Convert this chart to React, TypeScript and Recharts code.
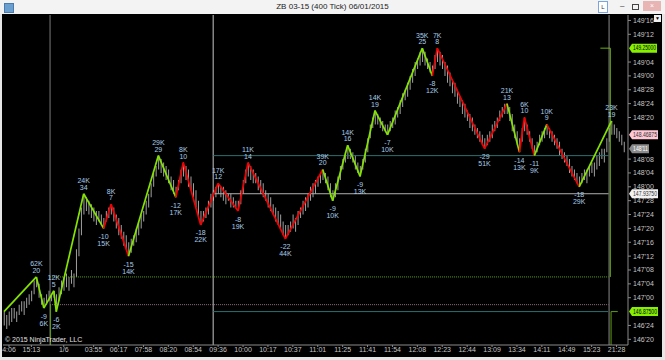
import React from 'react';
import { ComposedChart, Bar, Line, Scatter, XAxis, YAxis, ReferenceLine } from 'recharts';

// Prices are stored in 32nds above 146'00 (ZB ticks)
const barLow = [
  24, 23, 24, 25, 26, 25, 27, 28, 27, 29,
  30, 31, 33, 35, 32, 30, 29, 30, 31, 31,
  32, 28, 31, 33, 34, 35, 34, 36, 35, 38,
  44, 50, 56, 57, 56, 55, 54, 53, 54, 53,
  52, 54, 55, 56, 54, 52, 50, 49, 47, 46,
  44, 45, 47, 48, 50, 52, 54, 56, 58, 61,
  64, 67, 69, 68, 67, 66, 65, 63, 62, 61,
  63, 65, 67, 66, 64, 63, 61, 58, 55, 53,
  54, 55, 56, 58, 60, 61, 62, 61, 60, 59,
  60, 58, 58, 58, 57, 59, 62, 65, 67, 66,
  65, 65, 63, 62, 61, 60, 58, 57, 56, 54,
  53, 52, 50, 49, 50, 51, 52, 51, 53, 55,
  56, 57, 58, 60, 61, 62, 64, 65, 66, 65,
  63, 61, 60, 61, 63, 66, 69, 71, 72, 72,
  71, 69, 68, 67, 69, 71, 74, 78, 81, 82,
  82, 81, 80, 80, 79, 80, 81, 82, 84, 85,
  87, 89, 90, 92, 94, 96, 98, 99, 100, 99,
  98, 97, 96, 98, 100, 99, 98, 96, 94, 93,
  91, 90, 88, 87, 85, 84, 83, 81, 80, 79,
  78, 77, 76, 75, 76, 77, 78, 80, 81, 83,
  84, 85, 85, 83, 80, 78, 76, 74, 77, 80,
  79, 77, 75, 73, 74, 76, 77, 78, 79, 78,
  77, 76, 75, 73, 72, 71, 70, 68, 67, 66,
  65, 64, 65, 66, 65, 67, 68, 67, 69, 70,
  72, 71, 74, 77, 79, 79, 78, 77, 76, 74,
];
const barHigh = [
  28, 27, 28, 29, 29, 28, 30, 31, 31, 32,
  33, 34, 37, 38, 36, 33, 32, 33, 34, 33,
  34, 33, 35, 37, 38, 39, 38, 40, 39, 46,
  52, 58, 62, 61, 60, 59, 58, 57, 57, 56,
  55, 57, 58, 59, 58, 56, 55, 53, 51, 50,
  48, 49, 50, 52, 54, 56, 57, 60, 62, 65,
  68, 70, 73, 72, 71, 70, 69, 67, 66, 64,
  66, 69, 71, 70, 69, 67, 65, 63, 60, 57,
  57, 58, 60, 62, 63, 64, 65, 64, 64, 63,
  62, 62, 61, 60, 60, 63, 66, 69, 71, 70,
  69, 68, 67, 66, 65, 63, 62, 61, 59, 58,
  57, 56, 54, 53, 53, 54, 56, 55, 57, 58,
  60, 61, 62, 64, 65, 66, 67, 68, 69, 68,
  67, 65, 63, 65, 67, 70, 72, 74, 76, 75,
  74, 73, 71, 70, 72, 75, 78, 82, 84, 86,
  85, 84, 83, 82, 82, 83, 84, 86, 87, 89,
  91, 92, 94, 96, 98, 100, 101, 103, 104, 103,
  101, 100, 99, 102, 104, 103, 102, 100, 99, 97,
  95, 94, 92, 90, 89, 88, 86, 85, 84, 82,
  81, 80, 79, 78, 79, 80, 82, 83, 84, 86,
  87, 88, 88, 87, 85, 82, 80, 78, 81, 84,
  82, 80, 78, 76, 77, 79, 80, 81, 82, 81,
  80, 79, 78, 77, 75, 74, 73, 72, 70, 69,
  68, 67, 68, 69, 69, 70, 71, 71, 73, 74,
  75, 75, 78, 81, 83, 82, 81, 80, 79, 77,
];

const pivotBar = [0, 13, 16, 20, 21, 32, 40, 43, 50, 62, 69, 72, 79, 86, 94, 98, 113, 128, 132, 138, 143, 149, 154, 168, 172, 174, 193, 202, 207, 209, 213, 218, 231, 244];
const pivotTicks = [28, 38, 29, 34, 28, 62, 52, 59, 44, 73, 61, 71, 53, 65, 57, 71, 49, 69, 60, 76, 67, 86, 79, 104, 96, 104, 75, 88, 74, 84, 73, 82, 64, 83];
const pivotVolume = ['', '62K', '6K', '12K', '2K', '24K', '15K', '8K', '14K', '29K', '17K', '8K', '22K', '17K', '19K', '11K', '44K', '39K', '10K', '14K', '13K', '14K', '10K', '35K', '12K', '7K', '51K', '21K', '13K', '6K', '9K', '10K', '29K', '23K'];
const pivotCount = [0, 20, -9, 5, -6, 34, -10, 7, -15, 29, -12, 10, -18, 12, -8, 14, -22, 20, -9, 16, -9, 19, -7, 25, -8, 8, -29, 13, -14, 10, -11, 9, -18, 19];
const segmentColor = ['g', 'g', 'g', 'g', 'g', 'g', 'r', 'r', 'g', 'g', 'r', 'r', 'r', 'r', 'r', 'r', 'r', 'g', 'g', 'g', 'g', 'g', 'g', 'g', 'r', 'r', 'r', 'g', 'r', 'r', 'g', 'r', 'g'];

const xTickBars = [2, 11, 24, 36, 46, 56, 66, 76, 86, 96, 106, 116, 126, 136, 146, 156, 166, 176, 186, 196, 206, 216, 226, 236, 246];
const xTickLabels = ['4:06', '15:13', '1/6', '03:55', '06:17', '07:58', '08:20', '08:54', '09:36', '10:00', '10:17', '10:37', '11:01', '11:25', '11:41', '11:54', '12:08', '12:23', '12:44', '13:09', '13:34', '14:11', '14:49', '15:23', '21:28'];
// price-axis ticks every 4/32 (the ones under the price tags are covered in the reference)
const yTickTicks = [20, 24, 32, 36, 40, 44, 48, 52, 56, 60, 64, 68, 72, 84, 88, 92, 96, 100, 108, 112];

const levelTicks = [38, 30, 73, 62, 28];
const levelFrom = [18.5, 18.5, 84, 84, 84];
const levelTo = [242.8, 242.8, 242.8, 242.8, 242.6];
const levelColor = ['#5c9e10', '#8c6c7c', '#2c7070', '#b0b0b0', '#2c7070'];
const levelDash = ['1 1', '1 1', '', '', ''];

const sessionBars = [18.5, 84, 243];
const sessionColor = ['#7a7a7a', '#c8c8c8', '#8a8a8a'];

const tagTicks = [104, 79, 75, 62, 28];
const tagText = ['149.25000', '148.46875', "148'11", '147.93750', '146.87500'];
const tagFill = ['#86f000', '#ffc8d4', '#8a8a8a', '#f2f2f2', '#86f000'];
const tagInk = ['#000000', '#333333', '#ffffff', '#333333', '#000000'];
const tagWidth = [25, 26, 17, 26, 26];

const GREEN = '#84e400';
const RED = '#f00000';
const LABEL = '#a8cde8';
const FONT = '"Liberation Sans", Arial, sans-serif';

const Y_MIN = 18.36;
const Y_MAX = 113.57;
const price = (n: number) => 146 + n / 32;
const fmt32 = (p: number) => {
  const n = Math.round((p - 146) * 32);
  const whole = 146 + Math.floor(n / 32);
  const frac = ((n % 32) + 32) % 32;
  return `${whole}'${String(frac).padStart(2, '0')}`;
};

const barData = barLow.map((lo, i) => ({ i, range: [price(lo), price(barHigh[i])] }));
const pivots = pivotBar.map((b, k) => ({ i: b, p: price(pivotTicks[k]), vol: pivotVolume[k], cnt: pivotCount[k] }));
const segments = segmentColor.map((c, k) => ({ color: c === 'g' ? GREEN : RED, data: [pivots[k], pivots[k + 1]] }));

const PivotLabel = (props: any) => {
  const { cx, cy, payload } = props;
  if (!payload || !payload.cnt) return <g />;
  const up = payload.cnt > 0;
  const l1 = up ? payload.vol : String(payload.cnt);
  const l2 = up ? String(payload.cnt) : payload.vol;
  const y1 = up ? cy - 10.5 : cy + 10.5;
  const y2 = up ? cy - 4 : cy + 17.5;
  return (
    <g>
      <text x={cx} y={y1} textAnchor="middle" fontSize={7} fill={LABEL} fontFamily={FONT}>{l1}</text>
      <text x={cx} y={y2} textAnchor="middle" fontSize={7} fill={LABEL} fontFamily={FONT}>{l2}</text>
    </g>
  );
};

const makeTag = (k: number) => (props: any) => {
  const vb = props && props.viewBox;
  if (!vb) return null;
  const x0 = vb.x + (vb.width || 0) + 1;
  const cy = vb.y;
  const w = tagWidth[k];
  const d = `M${x0},${cy} L${x0 + 3},${cy - 4.5} L${x0 + 3 + w},${cy - 4.5} L${x0 + 3 + w},${cy + 4.5} L${x0 + 3},${cy + 4.5} Z`;
  return (
    <g>
      <path d={d} fill={tagFill[k]} />
      <text
        x={x0 + 4}
        y={cy + 2.3}
        textAnchor="start"
        fontSize={6.3}
        fill={tagInk[k]}
        fontFamily={FONT}
        textLength={w - 2}
        lengthAdjust="spacingAndGlyphs"
      >
        {tagText[k]}
      </text>
    </g>
  );
};

export default function App() {
  return (
    <div style={{ position: 'relative', width: 665, height: 360, background: '#e6e6e6', overflow: 'hidden', fontFamily: FONT }}>
      <style>{'body{margin:0}'}</style>
      {/* title bar */}
      <div style={{ position: 'absolute', left: 0, top: 0, width: 665, height: 14, background: '#f3f3f3' }} />
      <div style={{ position: 'absolute', left: 4, top: 3, width: 8, height: 8, background: '#6a9fd0', border: '1px solid #4a7ab0' }} />
      <div style={{ position: 'absolute', left: 0, top: 2, width: 665, textAlign: 'center', fontSize: 8, color: '#222' }}>ZB 03-15 (400 Tick)  06/01/2015</div>
      <div style={{ position: 'absolute', left: 598, top: 1, width: 8, height: 10, border: '1px solid #7aa6e0', background: '#fff', fontSize: 6, lineHeight: '10px', textAlign: 'center', color: '#333' }}>L</div>
      <div style={{ position: 'absolute', left: 620, top: 1, fontSize: 8, color: '#333' }}>–</div>
      <div style={{ position: 'absolute', left: 632, top: 4, width: 5, height: 4, border: '1px solid #444' }} />
      <div style={{ position: 'absolute', left: 643, top: 1, width: 18, height: 10, background: '#e8b4b4', fontSize: 7, lineHeight: '10px', textAlign: 'center', color: '#fff' }}>×</div>
      {/* black panel */}
      <div style={{ position: 'absolute', left: 2, top: 14, width: 660, height: 343, background: '#000' }} />
      <div style={{ position: 'absolute', left: 654, top: 15, width: 7, height: 7, background: '#f0f0f0', fontSize: 5, lineHeight: '7px', textAlign: 'center', color: '#000' }}>▼</div>
      <div style={{ position: 'absolute', left: 0, top: 0 }}>
        <ComposedChart width={665} height={360} data={barData} margin={{ top: 15, right: 7, bottom: 3, left: 3 }}>
          <XAxis
            dataKey="i"
            type="number"
            domain={[-0.4, 250.6]}
            allowDataOverflow
            ticks={xTickBars}
            tickFormatter={(v: number) => xTickLabels[xTickBars.indexOf(v)] ?? ''}
            height={12}
            tickSize={2}
            tickMargin={0}
            interval={0}
            stroke="#8a8a8a"
            tick={{ fontSize: 7, fill: '#c4c4c4', fontFamily: FONT }}
          />
          <YAxis
            orientation="right"
            type="number"
            domain={[price(Y_MIN), price(Y_MAX)]}
            allowDataOverflow
            ticks={yTickTicks.map(price)}
            tickFormatter={fmt32}
            width={30}
            tickSize={3}
            tickMargin={2}
            interval={0}
            stroke="#8a8a8a"
            tick={{ fontSize: 7, fill: '#c4c4c4', fontFamily: FONT }}
          />
          {sessionBars.map((b, k) => (
            <ReferenceLine key={'s' + k} x={b} stroke={sessionColor[k]} strokeWidth={1} />
          ))}
          {levelTicks.map((t, k) => (
            <ReferenceLine
              key={'l' + k}
              segment={[{ x: levelFrom[k], y: price(t) }, { x: levelTo[k], y: price(t) }]}
              stroke={levelColor[k]}
              strokeDasharray={levelDash[k] || undefined}
              strokeWidth={1}
            />
          ))}
          <ReferenceLine segment={[{ x: 18.7, y: price(30) }, { x: 18.7, y: price(Y_MIN) }]} stroke="#5c9e10" />
          <ReferenceLine segment={[{ x: 243.5, y: price(104) }, { x: 243.5, y: price(38) }]} stroke="#6ab010" />
          <ReferenceLine segment={[{ x: 243.8, y: price(28) }, { x: 243.8, y: price(Y_MIN) }]} stroke="#5c9e10" />
          <ReferenceLine segment={[{ x: 239.5, y: price(104) }, { x: 243.5, y: price(104) }]} stroke="#6ab010" />
          <ReferenceLine segment={[{ x: 243.8, y: price(28) }, { x: 246.5, y: price(28) }]} stroke="#5c9e10" />
          <Bar dataKey="range" fill="#a0a0a0" barSize={1} isAnimationActive={false} />
          {segments.map((s, k) => (
            <Line
              key={'z' + k}
              data={s.data}
              dataKey="p"
              type="linear"
              stroke={s.color}
              strokeWidth={1.7}
              dot={false}
              activeDot={false}
              isAnimationActive={false}
            />
          ))}
          <Scatter data={pivots} dataKey="p" shape={PivotLabel} isAnimationActive={false} />
          {tagTicks.map((t, k) => (
            <ReferenceLine
              key={'t' + k}
              y={price(t)}
              stroke="none"
              ifOverflow="visible"
              label={{ content: makeTag(k) }}
            />
          ))}
        </ComposedChart>
      </div>
      <div style={{ position: 'absolute', left: 5, top: 336, fontSize: 7, color: '#e0e0e0' }}>© 2015 NinjaTrader, LLC</div>
    </div>
  );
}
